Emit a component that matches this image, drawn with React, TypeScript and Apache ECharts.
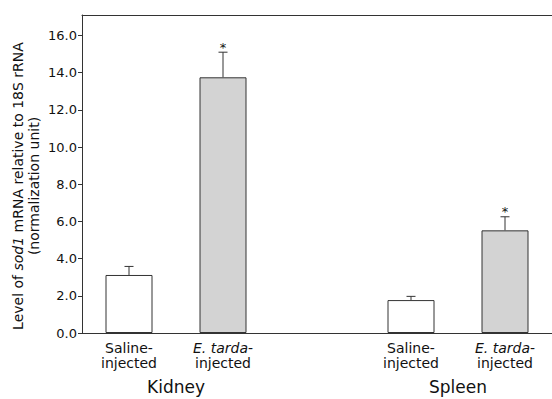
import React, { useEffect, useRef } from "react";
import * as echarts from "echarts";

const categories = ["Saline", "E. tarda", "", "Saline", "E. tarda"];
const means = [3.12, 13.75, null, 1.77, 5.52];
const upperErr = [3.58, 15.1, null, 1.97, 6.25];
const significant = [false, true, false, false, true];
const groups = ["Kidney", "Spleen"];
const groupSpans = [
  [0, 1],
  [3, 4],
];
const yTicks = [0, 2, 4, 6, 8, 10, 12, 14, 16];

const FONT = "'DejaVu Sans', sans-serif";
const TXT = "#111";
const LINE = "#333";

export default function App() {
  const ref = useRef<HTMLDivElement>(null);
  useEffect(() => {
    document.body.style.margin = "0";
    const chart = echarts.init(ref.current!, undefined, { renderer: "svg" });
    const barData = means.map((v, i) =>
      v == null
        ? null
        : {
            value: v,
            itemStyle: {
              color: categories[i] === "Saline" ? "#ffffff" : "#d3d3d3",
              borderColor: LINE,
              borderWidth: 1,
            },
          }
    );
    const errData = means
      .map((v, i) => (v == null ? null : [i, v, upperErr[i] as number, significant[i] ? 1 : 0]))
      .filter((d) => d != null);

    chart.setOption({
      animation: false,
      grid: { left: 82, top: 15, width: 473, bottom: 66 },
      graphic: [
        {
          type: "text",
          x: 26,
          y: 186,
          rotation: Math.PI / 2,
          style: {
            text: "{n|Level of }{i|sod1}{n| mRNA relative to 18S rRNA}\n{n|(normalization unit)}",
            align: "center",
            verticalAlign: "middle",
            rich: {
              n: { fontFamily: FONT, fontSize: 14, fill: TXT, lineHeight: 16, align: "center" },
              i: { fontFamily: FONT, fontSize: 14, fill: TXT, lineHeight: 16, fontStyle: "italic" },
            },
          },
        },
      ],
      xAxis: [
        {
          type: "category",
          data: categories,
          position: "bottom",
          axisLine: { lineStyle: { color: LINE, width: 1 } },
          axisTick: { inside: true, length: 4, lineStyle: { color: LINE } },
          axisLabel: {
            interval: 0,
            margin: 7,
            formatter: (val: string) => {
              if (val === "Saline") return "{n|Saline-}\n{n|injected}";
              if (val === "E. tarda") return "{i|E. tarda}{n|-}\n{n|injected}";
              return "";
            },
            rich: {
              n: { fontFamily: FONT, fontSize: 14, color: TXT, lineHeight: 15 },
              i: { fontFamily: FONT, fontSize: 14, color: TXT, lineHeight: 15, fontStyle: "italic" },
            },
          },
        },
        {
          type: "category",
          data: categories,
          position: "top",
          axisLine: { show: true, lineStyle: { color: LINE, width: 1 } },
          axisTick: { show: false },
          axisLabel: { show: false },
        },
      ],
      yAxis: {
        type: "value",
        min: 0,
        max: 17.1,
        interval: 2,
        splitLine: { show: false },
        axisLine: { show: true, lineStyle: { color: LINE, width: 1 } },
        axisTick: { show: true, length: 4, customValues: yTicks, lineStyle: { color: LINE } },
        axisLabel: {
          customValues: yTicks,
          formatter: (v: number) => v.toFixed(1),
          fontFamily: FONT,
          fontSize: 13,
          color: TXT,
          margin: 5,
        },
      },
      series: [
        {
          type: "bar",
          data: barData,
          barWidth: "50%",
          xAxisIndex: 0,
        },
        {
          type: "custom",
          xAxisIndex: 0,
          data: errData,
          renderItem: (params: any, api: any) => {
            const x = api.value(0);
            const p0 = api.coord([x, api.value(1)]);
            const p1 = api.coord([x, api.value(2)]);
            const children: any[] = [
              {
                type: "line",
                shape: { x1: p0[0], y1: p0[1], x2: p1[0], y2: p1[1] },
                style: { stroke: LINE, lineWidth: 1 },
              },
              {
                type: "line",
                shape: { x1: p1[0] - 4.5, y1: p1[1], x2: p1[0] + 4.5, y2: p1[1] },
                style: { stroke: LINE, lineWidth: 1 },
              },
            ];
            if (api.value(3) === 1) {
              children.push({
                type: "text",
                x: p1[0],
                y: p1[1] - 5,
                style: {
                  text: "*",
                  fontFamily: FONT,
                  fontSize: 13,
                  fill: TXT,
                  align: "center",
                  verticalAlign: "middle",
                },
              });
            }
            return { type: "group", children };
          },
        },
        {
          type: "custom",
          xAxisIndex: 0,
          data: groupSpans,
          clip: false,
          renderItem: (params: any, api: any) => {
            const a = api.coord([api.value(0), 0]);
            const b = api.coord([api.value(1), 0]);
            return {
              type: "text",
              x: (a[0] + b[0]) / 2,
              y: a[1] + 54,
              style: {
                text: groups[params.dataIndex],
                fontFamily: FONT,
                fontSize: 17,
                fill: TXT,
                align: "center",
                verticalAlign: "middle",
              },
            };
          },
        },
      ],
    });
    return () => chart.dispose();
  }, []);
  return <div ref={ref} style={{ width: 552, height: 399 }} />;
}
